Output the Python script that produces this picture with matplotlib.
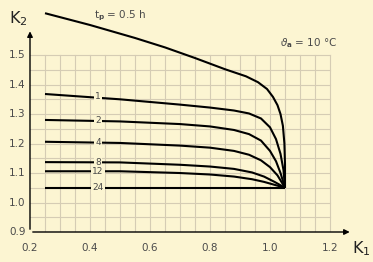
import matplotlib.pyplot as plt

# curves K2 vs K1 for different t_p (h)
k1_05 = [0.25, 0.40, 0.55, 0.65, 0.75, 0.85, 0.92, 0.96, 0.99, 1.01, 1.025, 1.035, 1.043, 1.048, 1.05, 1.05]
k2_05 = [1.642, 1.602, 1.558, 1.526, 1.49, 1.452, 1.428, 1.408, 1.385, 1.358, 1.33, 1.30, 1.26, 1.20, 1.13, 1.05]

k1_1 = [0.25, 0.50, 0.70, 0.80, 0.88, 0.93, 0.97, 1.00, 1.02, 1.035, 1.045, 1.05]
k2_1 = [1.368, 1.35, 1.332, 1.322, 1.312, 1.302, 1.285, 1.255, 1.215, 1.165, 1.11, 1.05]

k1_2 = [0.25, 0.50, 0.70, 0.80, 0.88, 0.93, 0.97, 1.00, 1.02, 1.035, 1.05]
k2_2 = [1.28, 1.275, 1.266, 1.258, 1.246, 1.232, 1.21, 1.175, 1.14, 1.10, 1.05]

k1_4 = [0.25, 0.50, 0.70, 0.80, 0.88, 0.93, 0.97, 1.00, 1.025, 1.05]
k2_4 = [1.206, 1.202, 1.193, 1.186, 1.175, 1.162, 1.143, 1.12, 1.092, 1.05]

k1_8 = [0.25, 0.50, 0.70, 0.80, 0.88, 0.94, 0.98, 1.015, 1.05]
k2_8 = [1.137, 1.136, 1.128, 1.122, 1.114, 1.102, 1.088, 1.07, 1.05]

k1_12 = [0.25, 0.50, 0.70, 0.80, 0.88, 0.94, 0.98, 1.015, 1.05]
k2_12 = [1.106, 1.106, 1.10, 1.095, 1.088, 1.079, 1.07, 1.06, 1.05]

k1_24 = [0.25, 1.05]
k2_24 = [1.05, 1.05]

labels = ['1', '2', '4', '8', '12', '24']
label_y = [1.36, 1.278, 1.204, 1.137, 1.106, 1.05]

x_ticks = [0.2, 0.4, 0.6, 0.8, 1.0, 1.2]
y_ticks = [0.9, 1.0, 1.1, 1.2, 1.3, 1.4, 1.5]

bg = '#fcf5d2'
grid_c = '#d5ccb4'
txt_c = '#4a4a4a'

fig = plt.figure(figsize=(3.73, 2.62), dpi=100, facecolor=bg)
ax = fig.add_axes([30 / 373, 30 / 262, 324 / 373, 230 / 262])
ax.set_facecolor(bg)
ax.set_xlim(0.2, 1.28)
ax.set_ylim(0.9, 1.68)
for s in ax.spines.values():
    s.set_visible(False)
ax.set_xticks([])
ax.set_yticks([])

# grid
for i in range(20):
    xv = 0.25 + 0.05 * i
    ax.plot([xv, xv], [0.9, 1.5], color=grid_c, lw=0.8, zorder=1)
for i in range(13):
    yv = 0.9 + 0.05 * i
    ax.plot([0.2, 1.2], [yv, yv], color=grid_c, lw=0.8, zorder=1)

# axes arrows
ax.annotate('', xy=(1.275, 0.9), xytext=(0.2, 0.9),
            arrowprops=dict(arrowstyle='-|>', color='black', lw=1.0,
                            mutation_scale=8), zorder=3)
ax.annotate('', xy=(0.2, 1.59), xytext=(0.2, 0.9),
            arrowprops=dict(arrowstyle='-|>', color='black', lw=1.0,
                            mutation_scale=8), zorder=3)

# tick labels
for xv in x_ticks:
    ax.text(xv, 0.845, '%.1f' % xv, ha='center', va='center', fontsize=7.5, color=txt_c)
for yv in y_ticks:
    ax.text(0.185, yv, '%.1f' % yv, ha='right', va='center', fontsize=7.5, color=txt_c)

ax.text(1.272, 0.845, r'$\mathrm{K}_1$', ha='left', va='center', fontsize=11.5, color='#222222')
ax.text(0.16, 1.625, r'$\mathrm{K}_2$', ha='center', va='center', fontsize=11.5, color='#222222')

# curves
curves = [(k1_05, k2_05), (k1_1, k2_1), (k1_2, k2_2), (k1_4, k2_4),
          (k1_8, k2_8), (k1_12, k2_12), (k1_24, k2_24)]
for x, y in curves:
    ax.plot(x, y, color='black', lw=1.5, zorder=4, solid_capstyle='butt',
            solid_joinstyle='round')

for lab, yv in zip(labels, label_y):
    ax.text(0.427, yv, lab, ha='center', va='center', fontsize=6.5, color=txt_c, zorder=5,
            bbox=dict(boxstyle='square,pad=0.15', fc=bg, ec='none'))

ax.text(0.50, 1.632, r'$\mathrm{t}_\mathbf{p}$ = 0.5 h', ha='center', va='center',
        fontsize=7.5, color=txt_c)
ax.text(1.035, 1.54, r'$\vartheta_\mathbf{a}$ = 10 °C', ha='left', va='center',
        fontsize=7.5, color=txt_c)

fig.savefig('out.png', dpi=100, facecolor=bg)
